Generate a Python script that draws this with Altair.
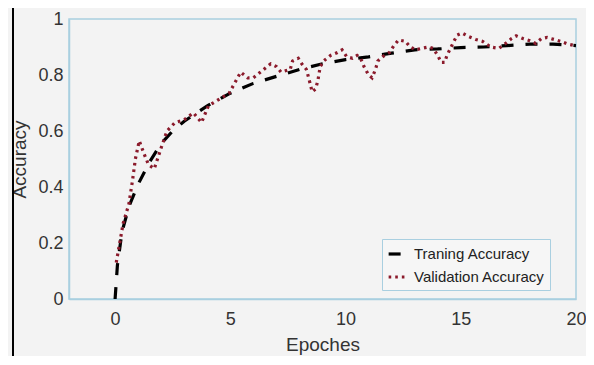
import altair as alt
import pandas as pd

# Training accuracy (black dashed)
train_x = [0, 0.1, 0.3, 0.6, 1.0, 1.5, 2.0, 2.5, 3.0, 4.0, 5.0, 6.0, 7.0, 8.0, 9.0,
           10.0, 11.0, 12.0, 13.0, 14.0, 15.0, 16.0, 17.0, 18.0, 19.0, 20.0]
train_y = [0.0, 0.12, 0.24, 0.33, 0.41, 0.49, 0.555, 0.60, 0.635, 0.69, 0.735, 0.77,
           0.795, 0.82, 0.84, 0.855, 0.865, 0.878, 0.89, 0.893, 0.898, 0.90, 0.905,
           0.91, 0.91, 0.905]

# Validation accuracy (dark red dotted)
val_x = [0.05, 0.35, 0.6, 0.75, 0.88, 1.05, 1.25, 1.45, 1.7, 2.0, 2.25, 2.6, 3.0, 3.4,
         3.75, 4.05, 4.45, 4.95, 5.45, 5.75, 6.0, 6.45, 6.75, 7.0, 7.2, 7.6, 7.7, 7.95,
         8.1, 8.3, 8.4, 8.55, 8.7, 8.8, 8.9, 9.05, 9.35, 9.65, 9.85, 10.05, 10.3, 10.5,
         10.65, 10.8, 11.0, 11.15, 11.3, 11.4, 11.6, 11.9, 12.1, 12.3, 12.6, 12.8, 13.05,
         13.3, 13.6, 13.8, 14.0, 14.15, 14.3, 14.4, 14.55, 14.7, 14.85, 15.05, 15.35,
         15.65, 15.95, 16.3, 16.65, 16.95, 17.2, 17.4, 17.7, 18.0, 18.25, 18.5, 18.75,
         19.05, 19.35, 19.65, 19.95]
val_y = [0.13, 0.27, 0.34, 0.42, 0.50, 0.565, 0.52, 0.48, 0.465, 0.54, 0.60, 0.63, 0.64,
         0.665, 0.63, 0.69, 0.71, 0.735, 0.81, 0.79, 0.79, 0.82, 0.84, 0.83, 0.81, 0.82,
         0.85, 0.86, 0.84, 0.82, 0.79, 0.74, 0.75, 0.78, 0.83, 0.85, 0.87, 0.88, 0.89,
         0.865, 0.86, 0.87, 0.86, 0.83, 0.80, 0.79, 0.82, 0.85, 0.865, 0.88, 0.905, 0.925,
         0.92, 0.90, 0.89, 0.895, 0.90, 0.895, 0.87, 0.845, 0.845, 0.87, 0.895, 0.92,
         0.943, 0.95, 0.937, 0.927, 0.92, 0.90, 0.895, 0.913, 0.93, 0.94, 0.93, 0.922,
         0.913, 0.93, 0.934, 0.927, 0.92, 0.91, 0.905]

series = ["Traning Accuracy", "Validation Accuracy"]
x_ticks = [0, 5, 10, 15, 20]
y_ticks = [0, 0.2, 0.4, 0.6, 0.8, 1]

rows = [{"Epoch": x, "Acc": y, "Series": series[0], "o": i} for i, (x, y) in enumerate(zip(train_x, train_y))]
rows += [{"Epoch": x, "Acc": y, "Series": series[1], "o": i} for i, (x, y) in enumerate(zip(val_x, val_y))]
df = pd.DataFrame(rows)

FONT = "Liberation Sans"
BLUE = "#a9cfe0"

lines = alt.Chart(df).mark_line(strokeWidth=3.2).encode(
    x=alt.X("Epoch:Q", scale=alt.Scale(domain=[-2, 20], nice=False, zero=False),
            axis=alt.Axis(values=x_ticks, title="Epoches", grid=False, ticks=False,
                          labelFlush=False, labelPadding=11, titleY=51,
                          titleBaseline="alphabetic")),
    y=alt.Y("Acc:Q", scale=alt.Scale(domain=[0, 1], nice=False),
            axis=alt.Axis(values=y_ticks, title="Accuracy", grid=False, ticks=False,
                          labelFlush=False, format="~g", labelPadding=6, titlePadding=8)),
    color=alt.Color("Series:N", scale=alt.Scale(domain=series, range=["#000000", "#8b1a2b"]),
                    legend=alt.Legend(title=None, orient="none", legendX=313, legendY=220,
                                      symbolType="stroke", symbolStrokeWidth=3.2, symbolSize=280,
                                      labelFontSize=15, labelColor="#222222", labelFont=FONT,
                                      fillColor="#f6f6f6", strokeColor=BLUE, padding=5,
                                      rowPadding=5, labelOffset=7)),
    strokeDash=alt.StrokeDash("Series:N", scale=alt.Scale(domain=series, range=[[12, 12], [2.6, 4]]),
                              legend=None),
    detail="Series:N",
    order="o:Q",
)

frame_left = alt.Chart(df).mark_rule(color="black", strokeWidth=1.5).encode(
    x=alt.value(-56), y=alt.value(-12), y2=alt.value(340))

chart = alt.layer(lines, frame_left).properties(
    width=507, height=280,
    padding={"left": 61, "top": 11, "right": 10, "bottom": 57},
    autosize=alt.AutoSizeParams(type="none"),
    background="#f3f3f3",
).configure_view(
    stroke=BLUE, strokeWidth=1.5, fill="#f3f3f3"
).configure_axis(
    domainColor=BLUE, domainWidth=1.5, labelFont=FONT, titleFont=FONT,
    labelFontSize=18, labelColor="#333333", titleFontSize=19, titleColor="#333333",
    titleFontWeight="normal"
)

chart.save("out.html", embed_options={"renderer": "svg", "actions": False})
